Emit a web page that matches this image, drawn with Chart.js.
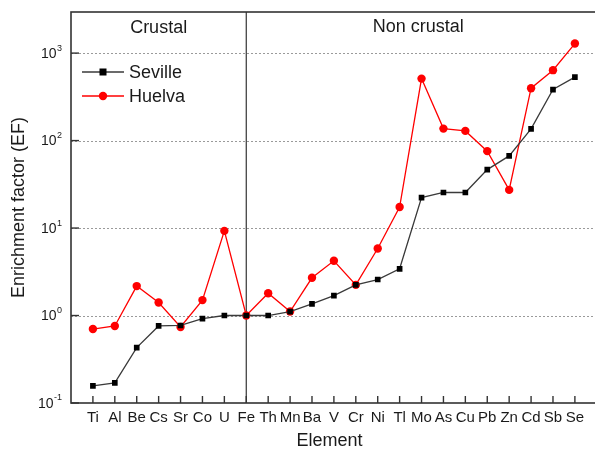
<!DOCTYPE html>
<html>
<head>
<meta charset="utf-8">
<script src="https://cdn.jsdelivr.net/npm/chart.js@4.4.0/dist/chart.umd.min.js"></script>
<style>
  html, body { margin: 0; padding: 0; background: #fff; overflow: hidden; }
  #wrap { position: relative; width: 601px; height: 450px; }
</style>
</head>
<body>
<div id="wrap"><canvas id="c"></canvas></div>
<script>
const categories = ['Ti','Al','Be','Cs','Sr','Co','U','Fe','Th','Mn','Ba','V','Cr','Ni','Tl','Mo','As','Cu','Pb','Zn','Cd','Sb','Se'];
const seville = [0.157,0.170,0.43,0.76,0.77,0.92,1.0,1.0,1.0,1.11,1.36,1.69,2.24,2.58,3.42,22.3,25.5,25.5,46.6,66.8,136,383,531];
const huelva  = [0.70,0.76,2.17,1.41,0.74,1.50,9.29,1.0,1.80,1.11,2.70,4.22,2.24,5.83,17.4,511,137,129,75.7,27.3,397,638,1285];
const yTickValues = [0.1, 1, 10, 100, 1000];
const yTickExponents = ['-1', '0', '1', '2', '3'];
const regionLabels = ['Crustal', 'Non crustal'];
const dividerCategory = 'Fe';
const xTitle = 'Element';

const FONT = '"Liberation Sans", Arial, sans-serif';
const TXT = '#1a1a1a';

const toPts = arr => arr.map((v, i) => ({ x: i, y: v }));

const deco = {
  id: 'deco',
  beforeDatasetsDraw(chart) {
    const { ctx, chartArea: a, scales: { x, y } } = chart;
    ctx.save();
    ctx.strokeStyle = '#9a9a9a';
    ctx.lineWidth = 1;
    ctx.setLineDash([2, 2]);
    yTickValues.forEach(v => {
      if (v === yTickValues[0]) return;
      const py = Math.round(y.getPixelForValue(v)) + 0.5;
      ctx.beginPath(); ctx.moveTo(a.left, py); ctx.lineTo(a.right, py); ctx.stroke();
    });
    ctx.setLineDash([]);
    const fx = x.getPixelForValue(categories.indexOf(dividerCategory));
    ctx.strokeStyle = '#333';
    ctx.lineWidth = 1.2;
    ctx.beginPath(); ctx.moveTo(fx, a.top); ctx.lineTo(fx, a.bottom); ctx.stroke();
    ctx.strokeStyle = '#333';
    ctx.lineWidth = 1.6;
    ctx.strokeRect(a.left, a.top, a.right - a.left, a.bottom - a.top);
    ctx.lineWidth = 1.4;
    yTickValues.forEach(v => {
      const py = y.getPixelForValue(v);
      ctx.beginPath(); ctx.moveTo(a.left, py); ctx.lineTo(a.left + 8, py); ctx.stroke();
    });
    categories.forEach((c, i) => {
      const px = x.getPixelForValue(i);
      ctx.beginPath(); ctx.moveTo(px, a.bottom); ctx.lineTo(px, a.bottom - 7); ctx.stroke();
    });
    ctx.restore();
  },
  afterDraw(chart) {
    const { ctx, chartArea: a, scales: { x, y } } = chart;
    ctx.save();
    ctx.fillStyle = TXT;
    yTickValues.forEach((v, i) => {
      const py = y.getPixelForValue(v);
      const right = a.left - 9;
      ctx.font = '9px ' + FONT;
      const we = ctx.measureText(yTickExponents[i]).width;
      ctx.textAlign = 'left'; ctx.textBaseline = 'middle';
      ctx.fillText(yTickExponents[i], right - we, py - 5);
      ctx.font = '14px ' + FONT;
      ctx.textAlign = 'right';
      ctx.fillText('10', right - we - 0.5, py + 1);
    });
    ctx.font = '18px ' + FONT;
    ctx.textAlign = 'center'; ctx.textBaseline = 'middle';
    const fi = categories.indexOf(dividerCategory);
    const fx = x.getPixelForValue(fi);
    ctx.fillText(regionLabels[0], (a.left + fx) / 2, a.top + 16);
    ctx.fillText(regionLabels[1], x.getPixelForValue(fi + 7.85), a.top + 15);
    // x axis title, centred under the category range
    ctx.fillText(xTitle, x.getPixelForValue(10.8), a.bottom + 38);
    chart.data.datasets.forEach((ds, k) => {
      const ly = a.top + 60 + k * 24;
      const x0 = a.left + 11, x1 = a.left + 53, mx = (x0 + x1) / 2;
      ctx.strokeStyle = ds.borderColor; ctx.lineWidth = 1.3;
      ctx.beginPath(); ctx.moveTo(x0, ly); ctx.lineTo(x1, ly); ctx.stroke();
      ctx.fillStyle = ds.pointBackgroundColor;
      if (ds.pointStyle === 'rect') {
        ctx.fillRect(mx - 3.5, ly - 3.5, 7, 7);
      } else {
        ctx.beginPath(); ctx.arc(mx, ly, 4.2, 0, Math.PI * 2); ctx.fill();
      }
      ctx.fillStyle = TXT;
      ctx.font = '18px ' + FONT;
      ctx.textAlign = 'left'; ctx.textBaseline = 'middle';
      ctx.fillText(ds.label, x1 + 5, ly + 1);
    });
    ctx.restore();
  }
};

new Chart(document.getElementById('c'), {
  type: 'line',
  data: {
    datasets: [
      {
        label: 'Seville',
        data: toPts(seville),
        borderColor: '#3a3a3a',
        borderWidth: 1.3,
        pointStyle: 'rect',
        pointRadius: 4,
        pointBackgroundColor: '#000',
        pointBorderColor: '#000',
        pointBorderWidth: 0,
        tension: 0
      },
      {
        label: 'Huelva',
        data: toPts(huelva),
        borderColor: '#ff0000',
        borderWidth: 1.3,
        pointStyle: 'circle',
        pointRadius: 4.2,
        pointBackgroundColor: '#ff0000',
        pointBorderColor: '#ff0000',
        pointBorderWidth: 0,
        tension: 0
      }
    ]
  },
  options: {
    responsive: true,
    maintainAspectRatio: false,
    animation: false,
    layout: { padding: { top: 12, left: 0, right: 0, bottom: 0 } },
    plugins: { legend: { display: false }, tooltip: { enabled: false } },
    scales: {
      x: {
        type: 'linear',
        min: -1,
        max: categories.length,
        grid: { display: false, drawTicks: false },
        border: { display: false },
        ticks: {
          stepSize: 1,
          autoSkip: false,
          maxRotation: 0,
          padding: 6,
          color: TXT,
          font: { family: FONT, size: 15 },
          callback: v => categories[v] !== undefined ? categories[v] : ''
        },
        title: { display: false },
        afterFit: s => { s.height = 47; s.paddingLeft = 0; s.paddingRight = 0; }
      },
      y: {
        type: 'logarithmic',
        min: 0.1,
        max: 2950,
        grid: { display: false, drawTicks: false },
        border: { display: false },
        ticks: { display: false },
        afterBuildTicks: s => { s.ticks = yTickValues.map(v => ({ value: v })); },
        title: { display: true, text: 'Enrichment factor (EF)', color: TXT, font: { family: FONT, size: 18 }, padding: { top: 8, bottom: 0 } },
        afterFit: s => { s.width = 71; s.paddingTop = 0; s.paddingBottom = 0; }
      }
    }
  },
  plugins: [deco]
});
</script>
</body>
</html>
